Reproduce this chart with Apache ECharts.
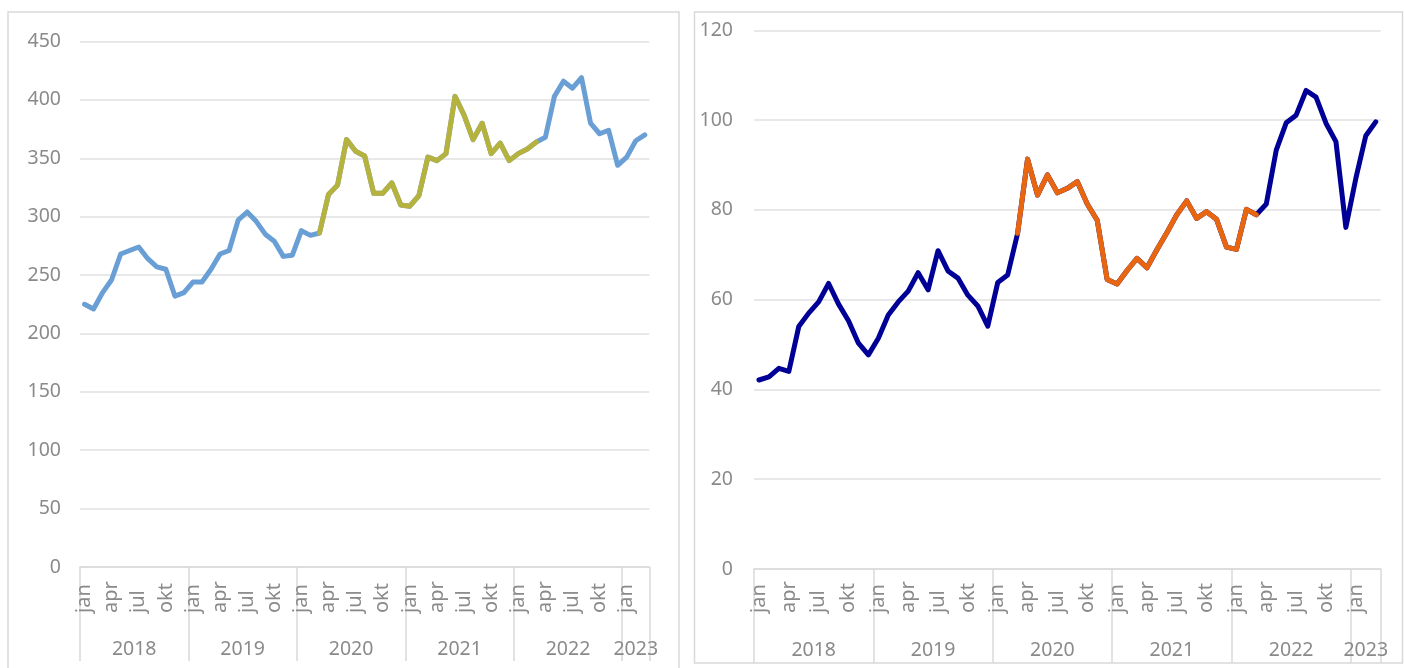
<!DOCTYPE html>
<html>
<head>
<meta charset="utf-8">
<script src="https://cdn.jsdelivr.net/npm/echarts@6/dist/echarts.min.js"></script>
<style>
  html, body { margin: 0; padding: 0; background: #fff; }
  #chart { width: 1404px; height: 668px; }
</style>
</head>
<body>
<div id="chart"></div>
<script>
// ---- data ----
const monthNames = ['jan','feb','mar','apr','maj','jun','jul','aug','sep','okt','nov','dec'];
const years = ['2018','2019','2020','2021','2022','2023'];
const monthsPerYear = [12, 12, 12, 12, 12, 3];

const leftValues = [225, 221, 235, 246, 268, 271, 274, 264, 257, 255, 232, 235,
  244, 244, 255, 268, 271, 297, 304, 296, 285, 279, 266, 267,
  288, 284, 286, 319, 327, 366, 356, 352, 320, 320, 329, 310,
  309, 318, 351, 348, 354, 403, 387, 366, 380, 354, 363, 348,
  354, 358, 364, 368, 403, 416, 410, 419, 380, 371, 374, 344,
  351, 365, 370];
const leftHighlight = [26, 50];

const rightValues = [42.1, 42.8, 44.7, 44.0, 54.0, 57.0, 59.5, 63.6, 59.0, 55.3, 50.3, 47.7,
  51.4, 56.6, 59.5, 61.9, 66.0, 62.2, 70.9, 66.4, 64.8, 61.0, 58.6, 54.1,
  63.8, 65.5, 74.8, 91.3, 83.3, 87.8, 83.8, 84.8, 86.3, 81.3, 77.7, 64.5,
  63.5, 66.5, 69.2, 67.1, 71.1, 74.9, 78.9, 82.0, 78.1, 79.6, 77.9, 71.7,
  71.2, 80.1, 78.9, 81.3, 93.3, 99.4, 101.1, 106.6, 105.1, 99.3, 95.2, 76.1,
  87.0, 96.5, 99.6];
const rightHighlight = [26, 50];

const leftYTicks = { min: 0, max: 450, interval: 50 };
const rightYTicks = { min: 0, max: 120, interval: 20 };

// ---- derived ----
const months = [];
const yearStarts = [];
const yearCenters = [];
years.forEach((y, k) => {
  yearStarts.push(months.length);
  yearCenters.push(months.length + monthsPerYear[k] / 2);
  for (let m = 0; m < monthsPerYear[k]; m++) months.push(monthNames[m]);
});
const nMonths = months.length;

const TEXT = '#8a8a8a';
const GRIDC = '#e0e0e0';
const AXISC = '#d9d9d9';
const FONT = 'Noto Sans';

function yearLabel(v) {
  for (let k = 0; k < yearCenters.length; k++) {
    if (Math.abs(yearCenters[k] - v) < 0.01) return years[k];
  }
  return '';
}

function monthAxis(gridIndex, margin, tickLen) {
  return {
    gridIndex, type: 'category', data: months, boundaryGap: true, position: 'bottom',
    axisLine: { show: true, lineStyle: { color: AXISC, width: 1.5 } },
    axisTick: { show: true, interval: (i) => yearStarts.indexOf(i) >= 0, length: tickLen,
      lineStyle: { color: AXISC, width: 1.5 } },
    axisLabel: { interval: (i) => i % 3 === 0, rotate: 90, align: 'left', verticalAlign: 'middle',
      margin, color: TEXT, fontSize: 20, fontFamily: FONT },
    splitLine: { show: false }
  };
}
function yearAxis(gridIndex, margin) {
  return {
    gridIndex, type: 'value', min: 0, max: nMonths, interval: 0.5, position: 'bottom',
    axisLine: { show: false }, axisTick: { show: false }, splitLine: { show: false },
    axisLabel: { formatter: yearLabel, margin, verticalAlign: 'middle', color: TEXT,
      fontSize: 19.5, fontFamily: FONT, showMinLabel: true, showMaxLabel: true }
  };
}
function valAxis(gridIndex, t, margin) {
  return {
    gridIndex, type: 'value', min: t.min, max: t.max, interval: t.interval,
    axisLine: { show: false }, axisTick: { show: false },
    splitLine: { show: true, lineStyle: { color: GRIDC, width: 1.5 } },
    axisLabel: { margin, color: TEXT, fontSize: 19.5, fontFamily: FONT }
  };
}
function lineSeries(xi, yi, data, color) {
  return {
    type: 'line', xAxisIndex: xi, yAxisIndex: yi, data, symbol: 'none', smooth: false,
    connectNulls: false, animation: false,
    lineStyle: { color, width: 5, cap: 'round', join: 'round' }
  };
}
const pick = (arr, r) => arr.map((v, i) => (i >= r[0] && i <= r[1]) ? v : null);

const chart = echarts.init(document.getElementById('chart'), null, { renderer: 'canvas' });
chart.setOption({
  animation: false,
  backgroundColor: '#ffffff',
  graphic: [
    { type: 'rect', shape: { x: 8, y: 12, width: 671, height: 700 },
      style: { fill: 'none', stroke: AXISC, lineWidth: 1.5 }, silent: true },
    { type: 'rect', shape: { x: 694.5, y: 12, width: 708, height: 651 },
      style: { fill: 'none', stroke: AXISC, lineWidth: 1.5 }, silent: true }
  ],
  grid: [
    { left: 80, right: 754.7, top: 41.5, bottom: 101, outerBoundsMode: 'none' },
    { left: 754, right: 23.3, top: 30.3, bottom: 99, outerBoundsMode: 'none' }
  ],
  xAxis: [
    monthAxis(0, 46, 94),
    yearAxis(0, 82),
    monthAxis(1, 44, 94),
    yearAxis(1, 81.5)
  ],
  yAxis: [
    valAxis(0, leftYTicks, 19),
    valAxis(1, rightYTicks, 21)
  ],
  series: [
    lineSeries(0, 0, leftValues, '#6a9fd6'),
    lineSeries(0, 0, pick(leftValues, leftHighlight), '#b5b33e'),
    lineSeries(2, 1, rightValues, '#000096'),
    lineSeries(2, 1, pick(rightValues, rightHighlight), '#e8660f')
  ]
});
</script>
</body>
</html>
